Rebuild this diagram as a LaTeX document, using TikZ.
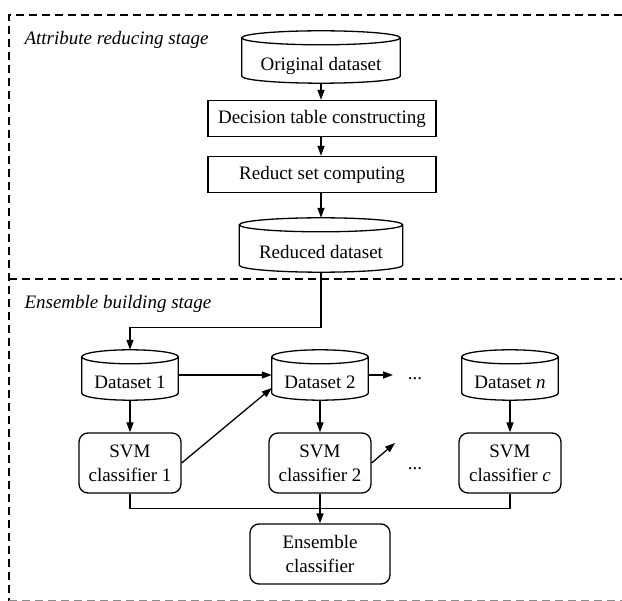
\documentclass[tikz,border=0pt]{standalone}
\usepackage{fontspec}
\setmainfont{Liberation Serif}
\usetikzlibrary{arrows.meta,calc}
\newcommand\cylo[1]{\draw[ln] let \p1=(#1.north west), \p2=(#1.south east) in
  ({\x1},{\y1-7pt}) -- ({\x1},{\y2+7pt})
  arc[start angle=180,end angle=360,x radius={(\x2-\x1)/2},y radius=7pt]
  -- ({\x2},{\y1-7pt})
  arc[start angle=0,end angle=360,x radius={(\x2-\x1)/2},y radius=7pt];}
\begin{document}
\begin{tikzpicture}[x=1pt,y=-1pt,
  every node/.style={font=\fontsize{19}{24}\selectfont},
  ln/.style={line width=1.3pt},
  arr/.style={ln,-{Triangle[length=10pt,width=7pt]}},
  frame/.style={line width=2.2pt,dash pattern=on 8pt off 5pt},
  sqbox/.style={draw,ln,minimum width=228pt,minimum height=36pt,inner sep=0pt},
  rbox/.style={draw,ln,rounded corners=9pt,minimum width=102pt,minimum height=60pt,inner sep=0pt,align=center},
  cyl/.style={inner sep=0pt,text height=28pt,text depth=0pt},
  stage/.style={anchor=west,font=\fontsize{19}{24}\selectfont\itshape}]
\useasboundingbox (0,0) rectangle (622,601);

% frame
\draw[frame] (622,15) -- (9,15) -- (9,601);
\draw[frame] (9,279) -- (622,279);
\draw[frame,black!45] (9,601) -- (622,601);

\node[stage] (lab1) at (21,40) {Attribute reducing stage};
\node[stage] (lab2) at (21,304) {Ensemble building stage};

% top column
\node[cyl,minimum width=158pt,minimum height=52pt] (orig) at (321,57) {Original dataset};
\node[sqbox] (dtc) at (322,118.5) {Decision table constructing};
\node[sqbox] (rsc) at (322,174.5) {Reduct set computing};
\node[cyl,minimum width=163pt,minimum height=54pt] (rds) at (321,245) {Reduced dataset};
\cylo{orig}
\cylo{rds}

% datasets
\node[cyl,minimum width=96pt,minimum height=50pt] (d1) at (130,375) {Dataset 1};
\node[cyl,minimum width=96pt,minimum height=50pt] (d2) at (320,375) {Dataset 2};
\node[cyl,minimum width=96pt,minimum height=50pt] (dn) at (510,375) {Dataset \textit{n}};
\cylo{d1}
\cylo{d2}
\cylo{dn}

% classifiers
\node[rbox] (s1) at (130,463) {SVM\\classifier 1};
\node[rbox] (s2) at (320,463) {SVM\\classifier 2};
\node[rbox] (sc) at (510,463) {SVM\\classifier \textit{c}};
\node[rbox,minimum width=140pt] (ens) at (320,554) {Ensemble\\classifier};

\node[anchor=base] (dots1) at (415,380) {...};
\node[anchor=base] (dots2) at (415,470) {...};
\coordinate (c1) at (393,375);
\coordinate (c2) at (395,443);

% connectors
\draw[arr] (orig.south) -- (dtc.north -| orig.south);
\draw[arr] (dtc.south -| orig.south) -- (rsc.north -| orig.south);
\draw[arr] (rsc.south -| orig.south) -- (rds.north);
\draw[arr] (rds.south) -- ++(0,55) -| (d1.north);
\draw[arr] (d1.east) -- (d2.west);
\draw[arr] (d2.east) -- (c1);
\draw[arr] (d1.south) -- (s1.north);
\draw[arr] (d2.south) -- (s2.north);
\draw[arr] (dn.south) -- (sc.north);
\draw[arr] (s1.east) -- ([yshift=-13pt]d2.west);
\draw[arr] (s2.east) -- (c2);
\draw[ln] (s1.south) -- ++(0,15) -| (sc.south);
\draw[arr] (s2.south) -- (ens.north);
\end{tikzpicture}
\end{document}
